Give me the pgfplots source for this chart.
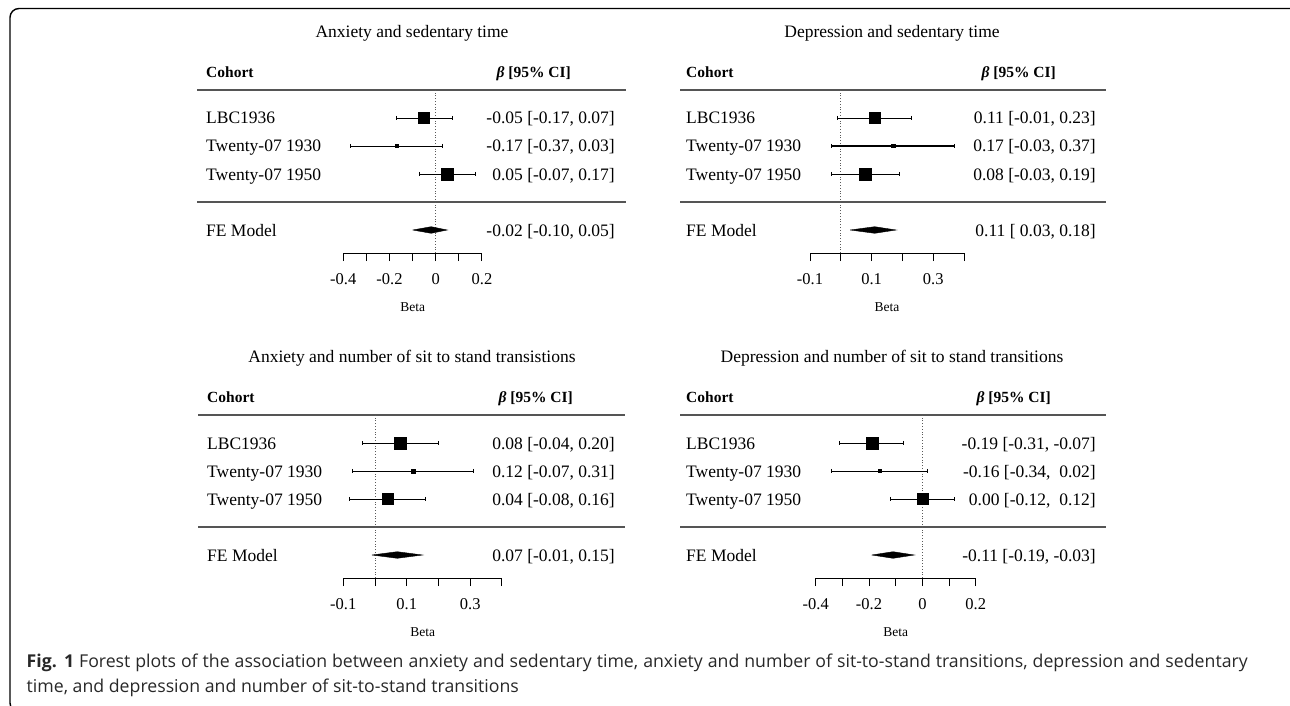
\documentclass[border=0pt]{standalone}
\usepackage{pgfplots}
\pgfplotsset{compat=1.18}
\usepackage{fontspec}
\setmainfont{Liberation Serif}
\newfontfamily\capfont{Open Sans}
\definecolor{rulec}{RGB}{85,85,85}
\definecolor{zeroc}{RGB}{90,90,90}
\definecolor{capc}{RGB}{40,40,40}
\newcommand{\ft}{\fontsize{17.5}{20}\selectfont}
\newcommand{\fh}{\fontsize{15.5}{18}\selectfont}
\tikzset{t/.style={inner sep=0pt, font=\ft}, h/.style={inner sep=0pt, font=\fh}}

\pgfplotsset{forest/.style={
  y=1pt, ymin=0, ymax=163,
  axis y line=none, axis x line*=bottom,
  x axis line style={-, line width=1pt, black},
  tick align=outside, major tick length=8pt,
  tick style={line width=1pt, black},
  xticklabel style={font=\fontsize{16.5}{18}\selectfont, anchor=base, yshift=-23pt},
  xlabel={Beta},
  xlabel style={font=\fontsize{13.5}{15}\selectfont, at={(axis description cs:0.5,0)}, anchor=base, yshift=-58.7pt},
  clip=false, anchor=south west,
}}
\pgfplotsset{ci/.style={black, line width=0.8pt, mark=|, mark size=2.2pt, mark options={solid, line width=0.8pt}},
  pt/.style={black, only marks, mark=square*}}

\begin{document}
\begin{tikzpicture}
\useasboundingbox (0pt,0pt) rectangle (1290pt,-706pt);
\begin{scope}
\clip (0pt,0pt) rectangle (1290pt,-706pt);
\draw[line width=1.4pt, rounded corners=9pt] (10pt,-712pt) rectangle (1302pt,-8.5pt);
\end{scope}

% ---------- Panel 1: Anxiety and sedentary time ----------
\node[t, anchor=base] at (412pt,-37.7pt) {Anxiety and sedentary time};
\node[h, anchor=base west] at (206pt,-77.5pt) {\textbf{Cohort}};
\node[h, anchor=base east] at (571pt,-77.5pt) {\textbf{\textit{β}} \textbf{[95\% CI]}};
\draw[rulec, line width=1.3pt] (197pt,-90pt) -- (626pt,-90pt);
\draw[rulec, line width=1.3pt] (197pt,-202pt) -- (626pt,-202pt);
\node[t, anchor=base west] at (206pt,-124pt) {LBC1936};
\node[t, anchor=base west] at (206pt,-152pt) {Twenty-07 1930};
\node[t, anchor=base west] at (206pt,-180pt) {Twenty-07 1950};
\node[t, anchor=base west] at (206pt,-236pt) {FE Model};
\node[t, anchor=base east] at (615pt,-124pt) {-0.05 [-0.17, 0.07]};
\node[t, anchor=base east] at (615pt,-152pt) {-0.17 [-0.37, 0.03]};
\node[t, anchor=base east] at (615pt,-180pt) {0.05 [-0.07, 0.17]};
\node[t, anchor=base east] at (615pt,-236pt) {-0.02 [-0.10, 0.05]};
\begin{axis}[forest, at={(343.3pt,-253pt)}, x=231.1pt, xmin=-0.4, xmax=0.2,
  xtick={-0.4,-0.3,-0.2,-0.1,0,0.1,0.2}, xticklabels={-0.4,,-0.2,,0,,0.2}]
\addplot[zeroc, dotted, line width=0.8pt] coordinates {(0,0) (0,163)};
\addplot[ci] coordinates {(-0.17,135) (0.07,135)};
\addplot[pt, mark size=5.5pt] coordinates {(-0.05,135)};
\addplot[ci] coordinates {(-0.37,107) (0.03,107)};
\addplot[pt, mark size=1.6pt] coordinates {(-0.17,107)};
\addplot[ci] coordinates {(-0.07,79) (0.17,79)};
\addplot[pt, mark size=6pt] coordinates {(0.05,79)};
\addplot[fill=black, draw=black, line width=0.4pt] coordinates {(-0.10,23) (-0.02,26.3) (0.05,23) (-0.02,19.7) (-0.10,23)};
\end{axis}

% ---------- Panel 2: Depression and sedentary time ----------
\node[t, anchor=base] at (892pt,-37.7pt) {Depression and sedentary time};
\node[h, anchor=base west] at (686pt,-77.5pt) {\textbf{Cohort}};
\node[h, anchor=base east] at (1056pt,-77.5pt) {\textbf{\textit{β}} \textbf{[95\% CI]}};
\draw[rulec, line width=1.3pt] (680pt,-90pt) -- (1106pt,-90pt);
\draw[rulec, line width=1.3pt] (680pt,-202pt) -- (1106pt,-202pt);
\node[t, anchor=base west] at (686pt,-124pt) {LBC1936};
\node[t, anchor=base west] at (686pt,-152pt) {Twenty-07 1930};
\node[t, anchor=base west] at (686pt,-180pt) {Twenty-07 1950};
\node[t, anchor=base west] at (686pt,-236pt) {FE Model};
\node[t, anchor=base east] at (1096pt,-124pt) {0.11 [-0.01, 0.23]};
\node[t, anchor=base east] at (1096pt,-152pt) {0.17 [-0.03, 0.37]};
\node[t, anchor=base east] at (1096pt,-180pt) {0.08 [-0.03, 0.19]};
\node[t, anchor=base east] at (1096pt,-236pt) {0.11 [\ 0.03, 0.18]};
\begin{axis}[forest, at={(810pt,-253pt)}, x=308pt, xmin=-0.1, xmax=0.4,
  xtick={-0.1,0,0.1,0.2,0.3,0.4}, xticklabels={-0.1,,0.1,,0.3,}]
\addplot[zeroc, dotted, line width=0.8pt] coordinates {(0,0) (0,163)};
\addplot[ci] coordinates {(-0.01,135) (0.23,135)};
\addplot[pt, mark size=5.5pt] coordinates {(0.11,135)};
\addplot[ci, line width=1.1pt] coordinates {(-0.03,107) (0.37,107)};
\addplot[pt, mark size=1.6pt] coordinates {(0.17,107)};
\addplot[ci] coordinates {(-0.03,79) (0.19,79)};
\addplot[pt, mark size=6pt] coordinates {(0.08,79)};
\addplot[fill=black, draw=black, line width=0.4pt] coordinates {(0.03,23) (0.11,26.3) (0.18,23) (0.11,19.7) (0.03,23)};
\end{axis}

% ---------- Panel 3: Anxiety and number of sit to stand transitions ----------
\begin{scope}[yshift=-325pt]
\node[t, anchor=base] at (412pt,-37.7pt) {Anxiety and number of sit to stand transistions};
\node[h, anchor=base west] at (207pt,-77.5pt) {\textbf{Cohort}};
\node[h, anchor=base east] at (573pt,-77.5pt) {\textbf{\textit{β}} \textbf{[95\% CI]}};
\draw[rulec, line width=1.3pt] (198pt,-90pt) -- (625pt,-90pt);
\draw[rulec, line width=1.3pt] (198pt,-202pt) -- (625pt,-202pt);
\node[t, anchor=base west] at (207pt,-124pt) {LBC1936};
\node[t, anchor=base west] at (207pt,-152pt) {Twenty-07 1930};
\node[t, anchor=base west] at (207pt,-180pt) {Twenty-07 1950};
\node[t, anchor=base west] at (207pt,-236pt) {FE Model};
\node[t, anchor=base east] at (615pt,-124pt) {0.08 [-0.04, 0.20]};
\node[t, anchor=base east] at (615pt,-152pt) {0.12 [-0.07, 0.31]};
\node[t, anchor=base east] at (615pt,-180pt) {0.04 [-0.08, 0.16]};
\node[t, anchor=base east] at (615pt,-236pt) {0.07 [-0.01, 0.15]};
\end{scope}
\begin{axis}[forest, at={(343.3pt,-578pt)}, x=317.3pt, xmin=-0.1, xmax=0.4,
  xtick={-0.1,0,0.1,0.2,0.3,0.4}, xticklabels={-0.1,,0.1,,0.3,}]
\addplot[zeroc, dotted, line width=0.8pt] coordinates {(0,0) (0,163)};
\addplot[ci] coordinates {(-0.04,135) (0.20,135)};
\addplot[pt, mark size=6pt] coordinates {(0.08,135)};
\addplot[ci] coordinates {(-0.07,107) (0.31,107)};
\addplot[pt, mark size=2pt] coordinates {(0.12,107)};
\addplot[ci] coordinates {(-0.08,79) (0.16,79)};
\addplot[pt, mark size=5.5pt] coordinates {(0.04,79)};
\addplot[fill=black, draw=black, line width=0.4pt] coordinates {(-0.01,23) (0.07,26.3) (0.15,23) (0.07,19.7) (-0.01,23)};
\end{axis}

% ---------- Panel 4: Depression and number of sit to stand transitions ----------
\begin{scope}[yshift=-325pt]
\node[t, anchor=base] at (892pt,-37.7pt) {Depression and number of sit to stand transitions};
\node[h, anchor=base west] at (686pt,-77.5pt) {\textbf{Cohort}};
\node[h, anchor=base east] at (1051pt,-77.5pt) {\textbf{\textit{β}} \textbf{[95\% CI]}};
\draw[rulec, line width=1.3pt] (680pt,-90pt) -- (1106pt,-90pt);
\draw[rulec, line width=1.3pt] (680pt,-202pt) -- (1106pt,-202pt);
\node[t, anchor=base west] at (686pt,-124pt) {LBC1936};
\node[t, anchor=base west] at (686pt,-152pt) {Twenty-07 1930};
\node[t, anchor=base west] at (686pt,-180pt) {Twenty-07 1950};
\node[t, anchor=base west] at (686pt,-236pt) {FE Model};
\node[t, anchor=base east] at (1096pt,-124pt) {-0.19 [-0.31, -0.07]};
\node[t, anchor=base east] at (1096pt,-152pt) {-0.16 [-0.34,\ \ 0.02]};
\node[t, anchor=base east] at (1096pt,-180pt) {0.00 [-0.12,\ \ 0.12]};
\node[t, anchor=base east] at (1096pt,-236pt) {-0.11 [-0.19, -0.03]};
\end{scope}
\begin{axis}[forest, at={(815.7pt,-578pt)}, x=266.7pt, xmin=-0.4, xmax=0.2,
  xtick={-0.4,-0.3,-0.2,-0.1,0,0.1,0.2}, xticklabels={-0.4,,-0.2,,0,,0.2}]
\addplot[zeroc, dotted, line width=0.8pt] coordinates {(0,0) (0,163)};
\addplot[ci] coordinates {(-0.31,135) (-0.07,135)};
\addplot[pt, mark size=6pt] coordinates {(-0.19,135)};
\addplot[ci] coordinates {(-0.34,107) (0.02,107)};
\addplot[pt, mark size=1.6pt] coordinates {(-0.16,107)};
\addplot[ci] coordinates {(-0.12,79) (0.12,79)};
\addplot[pt, mark size=5.5pt] coordinates {(0.00,79)};
\addplot[fill=black, draw=black, line width=0.4pt] coordinates {(-0.19,23) (-0.11,26.3) (-0.03,23) (-0.11,19.7) (-0.19,23)};
\end{axis}

% ---------- Caption ----------
\node[anchor=base west, inner sep=0pt, text=capc, font=\capfont\fontsize{17.7}{21}\selectfont] at (26.5pt,-667pt)
  {\makebox[1221pt][s]{\textbf{Fig. 1} Forest plots of the association between anxiety and sedentary time, anxiety and number of sit-to-stand transitions, depression and sedentary}};
\node[anchor=base west, inner sep=0pt, text=capc, font=\capfont\fontsize{17.7}{21}\selectfont] at (26.5pt,-692pt)
  {time, and depression and number of sit-to-stand transitions};
\end{tikzpicture}
\end{document}
